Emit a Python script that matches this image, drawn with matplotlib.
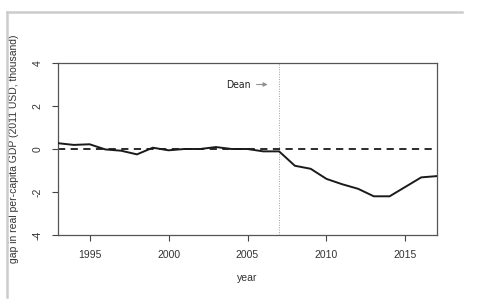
import matplotlib
matplotlib.use("Agg")
import matplotlib.pyplot as plt
from matplotlib.lines import Line2D

years = list(range(1993, 2018))
gap = [0.27, 0.19, 0.22, -0.02, -0.08, -0.25, 0.06, -0.06, 0.0, 0.0, 0.09, 0.0, 0.0,
       -0.11, -0.11, -0.78, -0.92, -1.39, -1.64, -1.85, -2.2, -2.2, -1.76, -1.32, -1.26]
xticks = [1995, 2000, 2005, 2010, 2015]
yticks = [-4, -2, 0, 2, 4]
event_year = 2007
event_label = "Dean"

plt.rcParams['font.family'] = ['Liberation Sans', 'DejaVu Sans']

W, H = 491, 304
fig = plt.figure(figsize=(W / 100, H / 100), dpi=100)
ax = fig.add_axes([58 / W, 1 - 235 / H, (437 - 58) / W, (235 - 63) / H])

ax.plot(years, gap, color='#1a1a1a', lw=1.4, zorder=3)
ax.axhline(0, color='#1a1a1a', lw=1.3, ls=(0, (4, 3)), zorder=2)
ax.axvline(event_year, color='#a0a0a0', lw=0.7, ls=(0, (1, 1.5)), zorder=1)

ax.set_xlim(1993, 2017)
ax.set_ylim(-4, 4)
ax.set_xticks(xticks)
ax.set_yticks(yticks)
ax.set_yticklabels([str(v) for v in yticks], rotation=90, va='center')
ax.tick_params(axis='both', direction='out', length=4, width=0.8, color='#444444',
               labelsize=7.5, labelcolor='#333333', pad=7)
for s in ax.spines.values():
    s.set_color('#555555')
    s.set_linewidth(0.9)

ax.set_xlabel("year", fontsize=7.5, color='#333333', labelpad=9)
ax.set_ylabel("gap in real per-capita GDP (2011 USD, thousand)", fontsize=7.5,
              color='#333333', labelpad=10)

ax.annotate("", xy=(event_year - 0.55, 3), xytext=(event_year - 1.6, 3),
            arrowprops=dict(arrowstyle='-|>', color='#909090', lw=0.8,
                            mutation_scale=6))
ax.text(event_year - 1.8, 3, event_label, ha='right', va='center', fontsize=7.5,
        color='#222222', family=['Liberation Sans Narrow', 'DejaVu Sans'],
        fontstretch='condensed')

# outer light frame
fig.add_artist(Line2D([7 / W, 462 / W], [1 - 12 / H, 1 - 12 / H],
                      transform=fig.transFigure, color='#cccccc', lw=1.8))
fig.add_artist(Line2D([7 / W, 7 / W], [1 - 12 / H, 1 - 297 / H],
                      transform=fig.transFigure, color='#cccccc', lw=1.8))

fig.savefig("out.png", dpi=100)
